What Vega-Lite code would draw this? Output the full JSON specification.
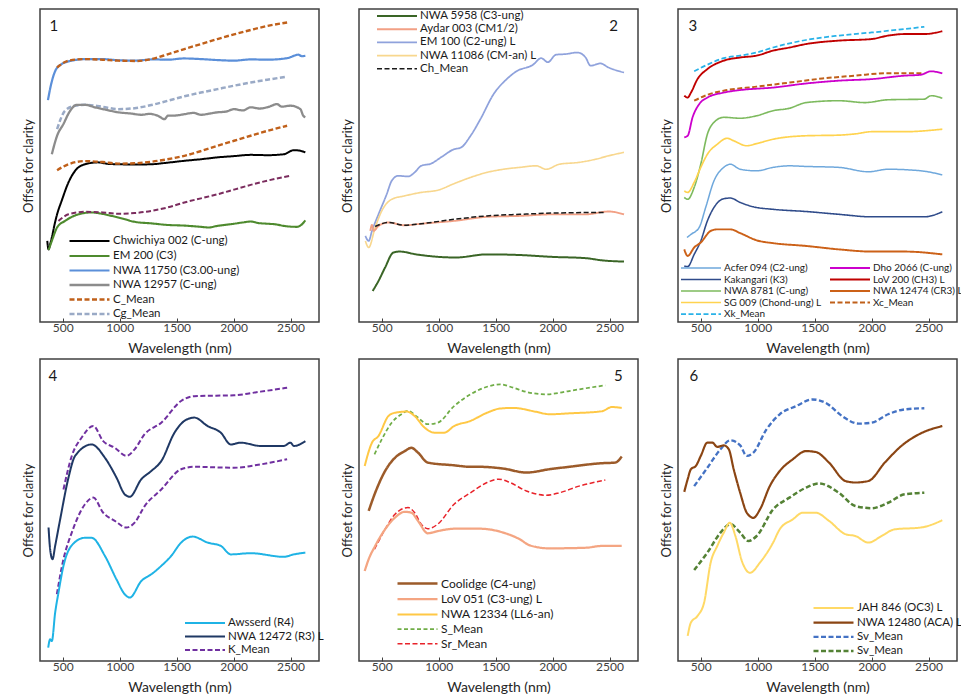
{
"$schema": "https://vega.github.io/schema/vega-lite/v6.json",
"padding": {"left": 21, "top": 8, "right": 2, "bottom": 2},
"background": "white",
"config": {
  "font": "Lato",
  "view": {"stroke": "#404040", "strokeWidth": 1.5},
  "axisX": {"grid": false, "domain": false, "tickSize": -4, "tickColor": "#404040", "tickWidth": 1, "labelFontSize": 12, "labelColor": "#404040", "labelPadding": 4, "titleFontSize": 14, "titleFontWeight": "normal", "titleColor": "#262626", "titlePadding": 8, "values": [500, 1000, 1500, 2000, 2500], "format": "d"},
  "axisY": {"grid": false, "domain": false, "ticks": false, "labels": false, "titleFontSize": 13, "titleFontWeight": "normal", "titleColor": "#262626", "titlePadding": 5},
  "legend": {"title": null, "orient": "none", "symbolType": "M-4,0H4", "symbolSize": 100, "symbolOffset": 14, "labelOffset": 17, "labelFontSize": 11.5, "labelColor": "#1a1a1a", "padding": 0, "rowPadding": 2.5, "labelLimit": 200},
  "line": {"interpolate": "monotone"},
  "text": {"font": "Lato", "fontSize": 15, "color": "#1a1a1a"}
},
"resolve": {
  "scale": {"x": "independent", "y": "independent", "color": "independent", "strokeDash": "independent", "strokeWidth": "independent"},
  "legend": {"color": "independent", "strokeDash": "independent", "strokeWidth": "independent"}
},
"columns": 3,
"bounds": "flush",
"spacing": {"row": 37, "column": 40},
"concat": [
{
  "width": 279, "height": 313,
  "layer": [
    {
      "data": {"values": [
        {"s":"NWA 11750 (C3.00-ung)","x":370,"y":70.9},{"s":"NWA 11750 (C3.00-ung)","x":390,"y":74.7},{"s":"NWA 11750 (C3.00-ung)","x":435,"y":80.3},{"s":"NWA 11750 (C3.00-ung)","x":490,"y":82.4},{"s":"NWA 11750 (C3.00-ung)","x":580,"y":83.5},{"s":"NWA 11750 (C3.00-ung)","x":700,"y":84},{"s":"NWA 11750 (C3.00-ung)","x":840,"y":84},{"s":"NWA 11750 (C3.00-ung)","x":1000,"y":83.6},{"s":"NWA 11750 (C3.00-ung)","x":1131,"y":83.5},{"s":"NWA 11750 (C3.00-ung)","x":1300,"y":83.9},{"s":"NWA 11750 (C3.00-ung)","x":1423,"y":83.8},{"s":"NWA 11750 (C3.00-ung)","x":1560,"y":84.2},{"s":"NWA 11750 (C3.00-ung)","x":1713,"y":84},{"s":"NWA 11750 (C3.00-ung)","x":1850,"y":83.7},{"s":"NWA 11750 (C3.00-ung)","x":2004,"y":83.5},{"s":"NWA 11750 (C3.00-ung)","x":2150,"y":83.9},{"s":"NWA 11750 (C3.00-ung)","x":2296,"y":83.8},{"s":"NWA 11750 (C3.00-ung)","x":2470,"y":84.3},{"s":"NWA 11750 (C3.00-ung)","x":2570,"y":85.4},{"s":"NWA 11750 (C3.00-ung)","x":2600,"y":84.9},{"s":"NWA 11750 (C3.00-ung)","x":2630,"y":85.1},
        {"s":"C_Mean","g":"a","x":450,"y":81.3},{"s":"C_Mean","g":"a","x":550,"y":83.5},{"s":"C_Mean","g":"a","x":695,"y":84},{"s":"C_Mean","g":"a","x":850,"y":83.8},{"s":"C_Mean","g":"a","x":986,"y":83.5},{"s":"C_Mean","g":"a","x":1150,"y":83.4},{"s":"C_Mean","g":"a","x":1277,"y":84},{"s":"C_Mean","g":"a","x":1420,"y":85.5},{"s":"C_Mean","g":"a","x":1568,"y":87.2},{"s":"C_Mean","g":"a","x":1713,"y":88.8},{"s":"C_Mean","g":"a","x":1858,"y":90.4},{"s":"C_Mean","g":"a","x":2004,"y":91.9},{"s":"C_Mean","g":"a","x":2150,"y":93.3},{"s":"C_Mean","g":"a","x":2300,"y":94.6},{"s":"C_Mean","g":"a","x":2470,"y":95.7},
        {"s":"Cg_Mean","x":450,"y":61.6},{"s":"Cg_Mean","x":520,"y":67.5},{"s":"Cg_Mean","x":608,"y":69.1},{"s":"Cg_Mean","x":695,"y":69.4},{"s":"Cg_Mean","x":840,"y":68.8},{"s":"Cg_Mean","x":986,"y":68},{"s":"Cg_Mean","x":1131,"y":68.3},{"s":"Cg_Mean","x":1277,"y":69.3},{"s":"Cg_Mean","x":1423,"y":70.7},{"s":"Cg_Mean","x":1568,"y":72.1},{"s":"Cg_Mean","x":1713,"y":73.3},{"s":"Cg_Mean","x":1858,"y":74.4},{"s":"Cg_Mean","x":2004,"y":75.5},{"s":"Cg_Mean","x":2150,"y":76.5},{"s":"Cg_Mean","x":2296,"y":77.4},{"s":"Cg_Mean","x":2470,"y":78.4},
        {"s":"NWA 12957  (C-ung)","x":404,"y":53.6},{"s":"NWA 12957  (C-ung)","x":450,"y":59.5},{"s":"NWA 12957  (C-ung)","x":505,"y":63.2},{"s":"NWA 12957  (C-ung)","x":565,"y":67.5},{"s":"NWA 12957  (C-ung)","x":625,"y":69.4},{"s":"NWA 12957  (C-ung)","x":695,"y":69.4},{"s":"NWA 12957  (C-ung)","x":782,"y":68.6},{"s":"NWA 12957  (C-ung)","x":880,"y":67.8},{"s":"NWA 12957  (C-ung)","x":986,"y":67},{"s":"NWA 12957  (C-ung)","x":1100,"y":66.6},{"s":"NWA 12957  (C-ung)","x":1190,"y":66.2},{"s":"NWA 12957  (C-ung)","x":1260,"y":66.5},{"s":"NWA 12957  (C-ung)","x":1335,"y":65.9},{"s":"NWA 12957  (C-ung)","x":1394,"y":64.8},{"s":"NWA 12957  (C-ung)","x":1423,"y":65.9},{"s":"NWA 12957  (C-ung)","x":1500,"y":66},{"s":"NWA 12957  (C-ung)","x":1568,"y":66.4},{"s":"NWA 12957  (C-ung)","x":1650,"y":66.8},{"s":"NWA 12957  (C-ung)","x":1713,"y":66.2},{"s":"NWA 12957  (C-ung)","x":1790,"y":66.6},{"s":"NWA 12957  (C-ung)","x":1858,"y":67},{"s":"NWA 12957  (C-ung)","x":1930,"y":67.2},{"s":"NWA 12957  (C-ung)","x":2004,"y":68},{"s":"NWA 12957  (C-ung)","x":2080,"y":67.6},{"s":"NWA 12957  (C-ung)","x":2150,"y":68.6},{"s":"NWA 12957  (C-ung)","x":2230,"y":68.2},{"s":"NWA 12957  (C-ung)","x":2296,"y":68.6},{"s":"NWA 12957  (C-ung)","x":2383,"y":69.6},{"s":"NWA 12957  (C-ung)","x":2420,"y":68.8},{"s":"NWA 12957  (C-ung)","x":2500,"y":69.1},{"s":"NWA 12957  (C-ung)","x":2587,"y":68},{"s":"NWA 12957  (C-ung)","x":2610,"y":66},{"s":"NWA 12957  (C-ung)","x":2630,"y":65.4},
        {"s":"Chwichiya 002  (C-ung)","x":364,"y":25.9},{"s":"Chwichiya 002  (C-ung)","x":375,"y":23.2},{"s":"Chwichiya 002  (C-ung)","x":390,"y":25},{"s":"Chwichiya 002  (C-ung)","x":404,"y":27},{"s":"Chwichiya 002  (C-ung)","x":430,"y":31.5},{"s":"Chwichiya 002  (C-ung)","x":450,"y":34.4},{"s":"Chwichiya 002  (C-ung)","x":490,"y":38.7},{"s":"Chwichiya 002  (C-ung)","x":550,"y":44.6},{"s":"Chwichiya 002  (C-ung)","x":608,"y":48.3},{"s":"Chwichiya 002  (C-ung)","x":695,"y":50.4},{"s":"Chwichiya 002  (C-ung)","x":811,"y":51},{"s":"Chwichiya 002  (C-ung)","x":900,"y":50.5},{"s":"Chwichiya 002  (C-ung)","x":986,"y":50.4},{"s":"Chwichiya 002  (C-ung)","x":1130,"y":50.3},{"s":"Chwichiya 002  (C-ung)","x":1277,"y":50.4},{"s":"Chwichiya 002  (C-ung)","x":1420,"y":50.9},{"s":"Chwichiya 002  (C-ung)","x":1568,"y":51.5},{"s":"Chwichiya 002  (C-ung)","x":1713,"y":52},{"s":"Chwichiya 002  (C-ung)","x":1858,"y":52.6},{"s":"Chwichiya 002  (C-ung)","x":2004,"y":53},{"s":"Chwichiya 002  (C-ung)","x":2150,"y":53.4},{"s":"Chwichiya 002  (C-ung)","x":2300,"y":53.3},{"s":"Chwichiya 002  (C-ung)","x":2441,"y":53.6},{"s":"Chwichiya 002  (C-ung)","x":2529,"y":54.9},{"s":"Chwichiya 002  (C-ung)","x":2587,"y":54.7},{"s":"Chwichiya 002  (C-ung)","x":2630,"y":54.2},
        {"s":"C_Mean","g":"b","x":450,"y":48.5},{"s":"C_Mean","g":"b","x":550,"y":50.4},{"s":"C_Mean","g":"b","x":695,"y":51.4},{"s":"C_Mean","g":"b","x":850,"y":51.1},{"s":"C_Mean","g":"b","x":986,"y":50.6},{"s":"C_Mean","g":"b","x":1130,"y":50.7},{"s":"C_Mean","g":"b","x":1277,"y":51.2},{"s":"C_Mean","g":"b","x":1420,"y":52},{"s":"C_Mean","g":"b","x":1568,"y":53.1},{"s":"C_Mean","g":"b","x":1713,"y":54.6},{"s":"C_Mean","g":"b","x":1858,"y":56.3},{"s":"C_Mean","g":"b","x":2004,"y":57.9},{"s":"C_Mean","g":"b","x":2150,"y":59.5},{"s":"C_Mean","g":"b","x":2300,"y":61.1},{"s":"C_Mean","g":"b","x":2470,"y":62.7},
        {"s":"EM 200 (C3)","x":375,"y":23},{"s":"EM 200 (C3)","x":404,"y":25.9},{"s":"EM 200 (C3)","x":450,"y":30.2},{"s":"EM 200 (C3)","x":520,"y":32.3},{"s":"EM 200 (C3)","x":637,"y":34.4},{"s":"EM 200 (C3)","x":753,"y":35},{"s":"EM 200 (C3)","x":840,"y":34.6},{"s":"EM 200 (C3)","x":928,"y":33.9},{"s":"EM 200 (C3)","x":1030,"y":33},{"s":"EM 200 (C3)","x":1131,"y":32},{"s":"EM 200 (C3)","x":1280,"y":31.5},{"s":"EM 200 (C3)","x":1423,"y":31},{"s":"EM 200 (C3)","x":1568,"y":30.8},{"s":"EM 200 (C3)","x":1713,"y":30.4},{"s":"EM 200 (C3)","x":1780,"y":30.2},{"s":"EM 200 (C3)","x":1858,"y":30.7},{"s":"EM 200 (C3)","x":2004,"y":31.4},{"s":"EM 200 (C3)","x":2080,"y":31.8},{"s":"EM 200 (C3)","x":2150,"y":32.1},{"s":"EM 200 (C3)","x":2220,"y":31.6},{"s":"EM 200 (C3)","x":2296,"y":31.4},{"s":"EM 200 (C3)","x":2370,"y":31.2},{"s":"EM 200 (C3)","x":2441,"y":30.7},{"s":"EM 200 (C3)","x":2558,"y":30.4},{"s":"EM 200 (C3)","x":2600,"y":31.2},{"s":"EM 200 (C3)","x":2630,"y":32.5}
      ]},
      "mark": "line",
      "encoding": {
        "x": {"field": "x", "type": "quantitative", "scale": {"domain": [300, 2750], "nice": false, "zero": false}, "title": "Wavelength (nm)"},
        "y": {"field": "y", "type": "quantitative", "scale": {"domain": [0, 100], "nice": false}, "title": "Offset for clarity"},
        "detail": {"field": "g"},
        "color": {"field": "s", "type": "nominal", "scale": {"domain": ["Chwichiya 002  (C-ung)","EM 200 (C3)","NWA 11750 (C3.00-ung)","NWA 12957  (C-ung)","C_Mean","Cg_Mean"], "range": ["#000000","#4E8A2E","#5B8FD9","#8C8C8C","#C0601A","#9AAAC6"]}, "legend": {"legendX": 29, "legendY": 226}},
        "strokeDash": {"field": "s", "type": "nominal", "scale": {"domain": ["Chwichiya 002  (C-ung)","EM 200 (C3)","NWA 11750 (C3.00-ung)","NWA 12957  (C-ung)","C_Mean","Cg_Mean"], "range": [[1,0],[1,0],[1,0],[1,0],[5,2.5],[5,2.5]]}, "legend": {"legendX": 29, "legendY": 226}},
        "strokeWidth": {"field": "s", "type": "nominal", "scale": {"domain": ["Chwichiya 002  (C-ung)","EM 200 (C3)","NWA 11750 (C3.00-ung)","NWA 12957  (C-ung)","C_Mean","Cg_Mean"], "range": [2,2.5,1.5,2,2,1.5]}, "legend": {"legendX": 29, "legendY": 226}}
      }
    },
    {
      "data": {"values": [
        {"x":462,"y":32.3},{"x":550,"y":34.4},{"x":695,"y":35.2},{"x":850,"y":35},{"x":986,"y":34.6},{"x":1130,"y":34.8},{"x":1277,"y":35.5},{"x":1420,"y":36.6},{"x":1568,"y":38.2},{"x":1713,"y":39.5},{"x":1858,"y":40.8},{"x":2004,"y":42.3},{"x":2150,"y":43.8},{"x":2300,"y":45.2},{"x":2500,"y":46.7}
      ]},
      "mark": {"type": "line", "color": "#7B2C5E", "strokeDash": [5, 2.5], "strokeWidth": 2},
      "encoding": {
        "x": {"field": "x", "type": "quantitative"},
        "y": {"field": "y", "type": "quantitative"}
      }
    },
    {
      "data": {"values": [{"x": 421, "y": 94.6, "t": "1"}]},
      "mark": {"type": "text"},
      "encoding": {
        "x": {"field": "x", "type": "quantitative"},
        "y": {"field": "y", "type": "quantitative"},
        "text": {"field": "t"}
      }
    }
  ]
},
{
  "width": 279, "height": 313,
  "layer": [
    {
      "data": {"values": [
        {"s":"EM 100  (C2-ung) L","x":356,"y":27.5},{"s":"EM 100  (C2-ung) L","x":385,"y":25.9},{"s":"EM 100  (C2-ung) L","x":414,"y":29.1},{"s":"EM 100  (C2-ung) L","x":471,"y":34.4},{"s":"EM 100  (C2-ung) L","x":543,"y":40.8},{"s":"EM 100  (C2-ung) L","x":587,"y":45.1},{"s":"EM 100  (C2-ung) L","x":644,"y":46.7},{"s":"EM 100  (C2-ung) L","x":731,"y":46.5},{"s":"EM 100  (C2-ung) L","x":789,"y":47.8},{"s":"EM 100  (C2-ung) L","x":846,"y":49.9},{"s":"EM 100  (C2-ung) L","x":933,"y":50.6},{"s":"EM 100  (C2-ung) L","x":1020,"y":52.6},{"s":"EM 100  (C2-ung) L","x":1135,"y":55.2},{"s":"EM 100  (C2-ung) L","x":1193,"y":55.7},{"s":"EM 100  (C2-ung) L","x":1280,"y":59.5},{"s":"EM 100  (C2-ung) L","x":1366,"y":64.8},{"s":"EM 100  (C2-ung) L","x":1482,"y":72.8},{"s":"EM 100  (C2-ung) L","x":1597,"y":77.6},{"s":"EM 100  (C2-ung) L","x":1683,"y":80.1},{"s":"EM 100  (C2-ung) L","x":1828,"y":82.2},{"s":"EM 100  (C2-ung) L","x":1900,"y":84.3},{"s":"EM 100  (C2-ung) L","x":1958,"y":83},{"s":"EM 100  (C2-ung) L","x":2030,"y":85.4},{"s":"EM 100  (C2-ung) L","x":2116,"y":85.6},{"s":"EM 100  (C2-ung) L","x":2217,"y":86.1},{"s":"EM 100  (C2-ung) L","x":2290,"y":84.5},{"s":"EM 100  (C2-ung) L","x":2333,"y":81.9},{"s":"EM 100  (C2-ung) L","x":2420,"y":82.6},{"s":"EM 100  (C2-ung) L","x":2492,"y":81.3},{"s":"EM 100  (C2-ung) L","x":2627,"y":79.7},
        {"s":"NWA 11086 (CM-an) L","x":356,"y":25.9},{"s":"NWA 11086 (CM-an) L","x":385,"y":23.8},{"s":"NWA 11086 (CM-an) L","x":442,"y":30.2},{"s":"NWA 11086 (CM-an) L","x":500,"y":35.5},{"s":"NWA 11086 (CM-an) L","x":587,"y":39.2},{"s":"NWA 11086 (CM-an) L","x":702,"y":40.3},{"s":"NWA 11086 (CM-an) L","x":846,"y":41.4},{"s":"NWA 11086 (CM-an) L","x":991,"y":42.1},{"s":"NWA 11086 (CM-an) L","x":1135,"y":44.2},{"s":"NWA 11086 (CM-an) L","x":1280,"y":46.2},{"s":"NWA 11086 (CM-an) L","x":1424,"y":47.8},{"s":"NWA 11086 (CM-an) L","x":1568,"y":48.8},{"s":"NWA 11086 (CM-an) L","x":1712,"y":49.4},{"s":"NWA 11086 (CM-an) L","x":1857,"y":49.9},{"s":"NWA 11086 (CM-an) L","x":1943,"y":48.8},{"s":"NWA 11086 (CM-an) L","x":2059,"y":50.4},{"s":"NWA 11086 (CM-an) L","x":2232,"y":51},{"s":"NWA 11086 (CM-an) L","x":2377,"y":52},{"s":"NWA 11086 (CM-an) L","x":2492,"y":53.1},{"s":"NWA 11086 (CM-an) L","x":2627,"y":54.2},
        {"s":"Aydar 003 (CM1/2)","x":399,"y":29.1},{"s":"Aydar 003 (CM1/2)","x":414,"y":31},{"s":"Aydar 003 (CM1/2)","x":428,"y":29.1},{"s":"Aydar 003 (CM1/2)","x":471,"y":30.7},{"s":"Aydar 003 (CM1/2)","x":558,"y":31.8},{"s":"Aydar 003 (CM1/2)","x":702,"y":30.9},{"s":"Aydar 003 (CM1/2)","x":846,"y":31.4},{"s":"Aydar 003 (CM1/2)","x":1135,"y":32.3},{"s":"Aydar 003 (CM1/2)","x":1424,"y":33.6},{"s":"Aydar 003 (CM1/2)","x":1712,"y":33.9},{"s":"Aydar 003 (CM1/2)","x":2001,"y":34.4},{"s":"Aydar 003 (CM1/2)","x":2290,"y":34.4},{"s":"Aydar 003 (CM1/2)","x":2492,"y":35.3},{"s":"Aydar 003 (CM1/2)","x":2627,"y":34.4},
        {"s":"Ch_Mean","x":442,"y":30.5},{"s":"Ch_Mean","x":558,"y":31.8},{"s":"Ch_Mean","x":702,"y":30.9},{"s":"Ch_Mean","x":846,"y":31.4},{"s":"Ch_Mean","x":1135,"y":32.8},{"s":"Ch_Mean","x":1424,"y":33.9},{"s":"Ch_Mean","x":1712,"y":34.4},{"s":"Ch_Mean","x":2001,"y":34.8},{"s":"Ch_Mean","x":2463,"y":35},
        {"s":"NWA 5958 (C3-ung)","x":420,"y":9.9},{"s":"NWA 5958 (C3-ung)","x":471,"y":13.1},{"s":"NWA 5958 (C3-ung)","x":529,"y":17.4},{"s":"NWA 5958 (C3-ung)","x":602,"y":22.2},{"s":"NWA 5958 (C3-ung)","x":659,"y":22.5},{"s":"NWA 5958 (C3-ung)","x":803,"y":21.6},{"s":"NWA 5958 (C3-ung)","x":1005,"y":20.8},{"s":"NWA 5958 (C3-ung)","x":1150,"y":20.6},{"s":"NWA 5958 (C3-ung)","x":1424,"y":21.6},{"s":"NWA 5958 (C3-ung)","x":1712,"y":21.4},{"s":"NWA 5958 (C3-ung)","x":2001,"y":20.8},{"s":"NWA 5958 (C3-ung)","x":2290,"y":20.4},{"s":"NWA 5958 (C3-ung)","x":2434,"y":19.7},{"s":"NWA 5958 (C3-ung)","x":2627,"y":19.3}
      ]},
      "mark": "line",
      "encoding": {
        "x": {"field": "x", "type": "quantitative", "scale": {"domain": [300, 2750], "nice": false, "zero": false}, "title": "Wavelength (nm)"},
        "y": {"field": "y", "type": "quantitative", "scale": {"domain": [0, 100], "nice": false}, "title": "Offset for clarity"},
        "color": {"field": "s", "type": "nominal", "scale": {"domain": ["NWA 5958 (C3-ung)","Aydar 003 (CM1/2)","EM 100  (C2-ung) L","NWA 11086 (CM-an) L","Ch_Mean"], "range": ["#3A6526","#F2A085","#8FA2DC","#F8D78E","#1a1a1a"]}, "legend": {"legendX": 18, "legendY": 1, "rowPadding": 1.2}},
        "strokeDash": {"field": "s", "type": "nominal", "scale": {"domain": ["NWA 5958 (C3-ung)","Aydar 003 (CM1/2)","EM 100  (C2-ung) L","NWA 11086 (CM-an) L","Ch_Mean"], "range": [[1,0],[1,0],[1,0],[1,0],[5,2.5]]}, "legend": {"legendX": 18, "legendY": 1, "rowPadding": 1.2}},
        "strokeWidth": {"field": "s", "type": "nominal", "scale": {"domain": ["NWA 5958 (C3-ung)","Aydar 003 (CM1/2)","EM 100  (C2-ung) L","NWA 11086 (CM-an) L","Ch_Mean"], "range": [2,1.5,1.5,1.5,2]}, "legend": {"legendX": 18, "legendY": 1, "rowPadding": 1.2}}
      }
    },
    {
      "data": {"values": [{"x": 2535, "y": 94.6, "t": "2"}]},
      "mark": {"type": "text"},
      "encoding": {
        "x": {"field": "x", "type": "quantitative"},
        "y": {"field": "y", "type": "quantitative"},
        "text": {"field": "t"}
      }
    }
  ]
},
{
  "width": 279, "height": 313,
  "layer": [
    {
      "data": {"values": [
        {"s":"Xk_Mean","x":442,"y":80.1},{"s":"Xk_Mean","x":558,"y":82.2},{"s":"Xk_Mean","x":702,"y":84.3},{"s":"Xk_Mean","x":846,"y":85.1},{"s":"Xk_Mean","x":991,"y":86.1},{"s":"Xk_Mean","x":1135,"y":87.7},{"s":"Xk_Mean","x":1424,"y":90.1},{"s":"Xk_Mean","x":1712,"y":91.5},{"s":"Xk_Mean","x":2001,"y":92.5},{"s":"Xk_Mean","x":2290,"y":93.6},{"s":"Xk_Mean","x":2463,"y":94.3},
        {"s":"LoV 200 (CH3) L","x":355,"y":72.3},{"s":"LoV 200 (CH3) L","x":385,"y":71.7},{"s":"LoV 200 (CH3) L","x":414,"y":73.3},{"s":"LoV 200 (CH3) L","x":471,"y":77.6},{"s":"LoV 200 (CH3) L","x":558,"y":80.8},{"s":"LoV 200 (CH3) L","x":702,"y":83.5},{"s":"LoV 200 (CH3) L","x":846,"y":84.5},{"s":"LoV 200 (CH3) L","x":991,"y":85.1},{"s":"LoV 200 (CH3) L","x":1135,"y":86.7},{"s":"LoV 200 (CH3) L","x":1280,"y":87.7},{"s":"LoV 200 (CH3) L","x":1424,"y":88.8},{"s":"LoV 200 (CH3) L","x":1712,"y":89.9},{"s":"LoV 200 (CH3) L","x":2001,"y":90.4},{"s":"LoV 200 (CH3) L","x":2145,"y":91.5},{"s":"LoV 200 (CH3) L","x":2290,"y":92},{"s":"LoV 200 (CH3) L","x":2463,"y":92},{"s":"LoV 200 (CH3) L","x":2621,"y":92.9},
        {"s":"Xc_Mean","x":442,"y":70.7},{"s":"Xc_Mean","x":558,"y":72.6},{"s":"Xc_Mean","x":702,"y":73.9},{"s":"Xc_Mean","x":991,"y":75.2},{"s":"Xc_Mean","x":1280,"y":76.5},{"s":"Xc_Mean","x":1568,"y":77.8},{"s":"Xc_Mean","x":1857,"y":78.7},{"s":"Xc_Mean","x":2145,"y":79.5},{"s":"Xc_Mean","x":2463,"y":79.5},
        {"s":"Dho 2066  (C-ung)","x":355,"y":59},{"s":"Dho 2066  (C-ung)","x":385,"y":59.5},{"s":"Dho 2066  (C-ung)","x":428,"y":65.4},{"s":"Dho 2066  (C-ung)","x":486,"y":69.6},{"s":"Dho 2066  (C-ung)","x":558,"y":71.7},{"s":"Dho 2066  (C-ung)","x":702,"y":73.3},{"s":"Dho 2066  (C-ung)","x":846,"y":74.1},{"s":"Dho 2066  (C-ung)","x":1135,"y":74.9},{"s":"Dho 2066  (C-ung)","x":1424,"y":76.2},{"s":"Dho 2066  (C-ung)","x":1712,"y":77.1},{"s":"Dho 2066  (C-ung)","x":2001,"y":77.6},{"s":"Dho 2066  (C-ung)","x":2290,"y":78.7},{"s":"Dho 2066  (C-ung)","x":2434,"y":79},{"s":"Dho 2066  (C-ung)","x":2521,"y":80.1},{"s":"Dho 2066  (C-ung)","x":2621,"y":79.4},
        {"s":"NWA 8781 (C-ung)","x":355,"y":39.8},{"s":"NWA 8781 (C-ung)","x":385,"y":39.2},{"s":"NWA 8781 (C-ung)","x":442,"y":43},{"s":"NWA 8781 (C-ung)","x":500,"y":50.4},{"s":"NWA 8781 (C-ung)","x":558,"y":60},{"s":"NWA 8781 (C-ung)","x":616,"y":63.8},{"s":"NWA 8781 (C-ung)","x":702,"y":65.4},{"s":"NWA 8781 (C-ung)","x":846,"y":65.1},{"s":"NWA 8781 (C-ung)","x":991,"y":65.9},{"s":"NWA 8781 (C-ung)","x":1135,"y":67.5},{"s":"NWA 8781 (C-ung)","x":1280,"y":68.3},{"s":"NWA 8781 (C-ung)","x":1424,"y":70.1},{"s":"NWA 8781 (C-ung)","x":1712,"y":70.7},{"s":"NWA 8781 (C-ung)","x":1943,"y":70.1},{"s":"NWA 8781 (C-ung)","x":2145,"y":71},{"s":"NWA 8781 (C-ung)","x":2463,"y":71.2},{"s":"NWA 8781 (C-ung)","x":2521,"y":72.3},{"s":"NWA 8781 (C-ung)","x":2621,"y":71.5},
        {"s":"SG 009  (Chond-ung) L","x":355,"y":41.9},{"s":"SG 009  (Chond-ung) L","x":385,"y":41.4},{"s":"SG 009  (Chond-ung) L","x":442,"y":44.6},{"s":"SG 009  (Chond-ung) L","x":500,"y":49.4},{"s":"SG 009  (Chond-ung) L","x":558,"y":53.6},{"s":"SG 009  (Chond-ung) L","x":645,"y":56.8},{"s":"SG 009  (Chond-ung) L","x":731,"y":58.7},{"s":"SG 009  (Chond-ung) L","x":789,"y":57.9},{"s":"SG 009  (Chond-ung) L","x":904,"y":56.3},{"s":"SG 009  (Chond-ung) L","x":991,"y":57},{"s":"SG 009  (Chond-ung) L","x":1135,"y":58.4},{"s":"SG 009  (Chond-ung) L","x":1424,"y":59.5},{"s":"SG 009  (Chond-ung) L","x":1712,"y":59.7},{"s":"SG 009  (Chond-ung) L","x":1857,"y":60.1},{"s":"SG 009  (Chond-ung) L","x":2001,"y":60.8},{"s":"SG 009  (Chond-ung) L","x":2290,"y":60.8},{"s":"SG 009  (Chond-ung) L","x":2621,"y":61.6},
        {"s":"Acfer 094 (C2-ung)","x":379,"y":27},{"s":"Acfer 094 (C2-ung)","x":414,"y":28},{"s":"Acfer 094 (C2-ung)","x":486,"y":30.2},{"s":"Acfer 094 (C2-ung)","x":543,"y":36.6},{"s":"Acfer 094 (C2-ung)","x":616,"y":45.1},{"s":"Acfer 094 (C2-ung)","x":702,"y":49.4},{"s":"Acfer 094 (C2-ung)","x":760,"y":50.4},{"s":"Acfer 094 (C2-ung)","x":846,"y":48.8},{"s":"Acfer 094 (C2-ung)","x":991,"y":48.3},{"s":"Acfer 094 (C2-ung)","x":1135,"y":49.4},{"s":"Acfer 094 (C2-ung)","x":1280,"y":49.9},{"s":"Acfer 094 (C2-ung)","x":1424,"y":49.7},{"s":"Acfer 094 (C2-ung)","x":1712,"y":49.4},{"s":"Acfer 094 (C2-ung)","x":1972,"y":48},{"s":"Acfer 094 (C2-ung)","x":2145,"y":48.8},{"s":"Acfer 094 (C2-ung)","x":2434,"y":48.3},{"s":"Acfer 094 (C2-ung)","x":2621,"y":47},
        {"s":"Kakangari (K3)","x":355,"y":17.9},{"s":"Kakangari (K3)","x":385,"y":17.7},{"s":"Kakangari (K3)","x":442,"y":21.6},{"s":"Kakangari (K3)","x":500,"y":25.9},{"s":"Kakangari (K3)","x":558,"y":32.3},{"s":"Kakangari (K3)","x":616,"y":36.6},{"s":"Kakangari (K3)","x":702,"y":39.4},{"s":"Kakangari (K3)","x":760,"y":39.6},{"s":"Kakangari (K3)","x":846,"y":38.2},{"s":"Kakangari (K3)","x":962,"y":36.8},{"s":"Kakangari (K3)","x":1135,"y":36},{"s":"Kakangari (K3)","x":1424,"y":35.3},{"s":"Kakangari (K3)","x":1712,"y":34.4},{"s":"Kakangari (K3)","x":2001,"y":33.6},{"s":"Kakangari (K3)","x":2290,"y":33.6},{"s":"Kakangari (K3)","x":2463,"y":33.6},{"s":"Kakangari (K3)","x":2621,"y":35.2},
        {"s":"NWA 12474 (CR3) L","x":355,"y":23.2},{"s":"NWA 12474 (CR3) L","x":385,"y":21.1},{"s":"NWA 12474 (CR3) L","x":442,"y":23.8},{"s":"NWA 12474 (CR3) L","x":500,"y":25.4},{"s":"NWA 12474 (CR3) L","x":587,"y":29.1},{"s":"NWA 12474 (CR3) L","x":645,"y":29.6},{"s":"NWA 12474 (CR3) L","x":760,"y":29.6},{"s":"NWA 12474 (CR3) L","x":846,"y":28.4},{"s":"NWA 12474 (CR3) L","x":991,"y":26.1},{"s":"NWA 12474 (CR3) L","x":1135,"y":25.2},{"s":"NWA 12474 (CR3) L","x":1424,"y":24.3},{"s":"NWA 12474 (CR3) L","x":1712,"y":23.2},{"s":"NWA 12474 (CR3) L","x":2001,"y":22.5},{"s":"NWA 12474 (CR3) L","x":2290,"y":22.5},{"s":"NWA 12474 (CR3) L","x":2621,"y":21.6}
      ]},
      "mark": "line",
      "encoding": {
        "x": {"field": "x", "type": "quantitative", "scale": {"domain": [300, 2750], "nice": false, "zero": false}, "title": "Wavelength (nm)"},
        "y": {"field": "y", "type": "quantitative", "scale": {"domain": [0, 100], "nice": false}, "title": "Offset for clarity"},
        "color": {"field": "s", "type": "nominal", "scale": {"domain": ["Acfer 094 (C2-ung)","Kakangari (K3)","NWA 8781 (C-ung)","SG 009  (Chond-ung) L","Xk_Mean","Dho 2066  (C-ung)","LoV 200 (CH3) L","NWA 12474 (CR3) L","Xc_Mean"], "range": ["#6FA8DC","#2F4B8A","#7DBA5E","#FFD34F","#29B2E8","#CC00CC","#C00000","#CC6118","#C0601A"]}, "legend": {"legendX": 3, "legendY": 253, "columns": 2, "labelFontSize": 10, "rowPadding": 0.5, "columnPadding": 2}},
        "strokeDash": {"field": "s", "type": "nominal", "scale": {"domain": ["Acfer 094 (C2-ung)","Kakangari (K3)","NWA 8781 (C-ung)","SG 009  (Chond-ung) L","Xk_Mean","Dho 2066  (C-ung)","LoV 200 (CH3) L","NWA 12474 (CR3) L","Xc_Mean"], "range": [[1,0],[1,0],[1,0],[1,0],[5,2.5],[1,0],[1,0],[1,0],[5,2.5]]}, "legend": {"legendX": 3, "legendY": 253, "columns": 2, "labelFontSize": 10, "rowPadding": 0.5, "columnPadding": 2}},
        "strokeWidth": {"field": "s", "type": "nominal", "scale": {"domain": ["Acfer 094 (C2-ung)","Kakangari (K3)","NWA 8781 (C-ung)","SG 009  (Chond-ung) L","Xk_Mean","Dho 2066  (C-ung)","LoV 200 (CH3) L","NWA 12474 (CR3) L","Xc_Mean"], "range": [1.5,2,1.5,1.5,2,2,2,2,2]}, "legend": {"legendX": 3, "legendY": 253, "columns": 2, "labelFontSize": 10, "rowPadding": 0.5, "columnPadding": 2}}
      }
    },
    {
      "data": {"values": [{"x": 431, "y": 94.6, "t": "3"}]},
      "mark": {"type": "text"},
      "encoding": {
        "x": {"field": "x", "type": "quantitative"},
        "y": {"field": "y", "type": "quantitative"},
        "text": {"field": "t"}
      }
    }
  ]
},
{
  "width": 279, "height": 302,
  "layer": [
    {
      "data": {"values": [
        {"s":"K_Mean","g":"a","x":506,"y":56.8},{"s":"K_Mean","g":"a","x":579,"y":67.9},{"s":"K_Mean","g":"a","x":666,"y":74},{"s":"K_Mean","g":"a","x":768,"y":77.8},{"s":"K_Mean","g":"a","x":855,"y":72.8},{"s":"K_Mean","g":"a","x":957,"y":70.6},{"s":"K_Mean","g":"a","x":1059,"y":67.9},{"s":"K_Mean","g":"a","x":1131,"y":70.1},{"s":"K_Mean","g":"a","x":1219,"y":75.1},{"s":"K_Mean","g":"a","x":1365,"y":78.9},{"s":"K_Mean","g":"a","x":1539,"y":86.1},{"s":"K_Mean","g":"a","x":1655,"y":87.7},{"s":"K_Mean","g":"a","x":2004,"y":88},{"s":"K_Mean","g":"a","x":2237,"y":89.2},{"s":"K_Mean","g":"a","x":2470,"y":90.5},
        {"s":"NWA 12472 (R3) L","x":375,"y":44.2},{"s":"NWA 12472 (R3) L","x":389,"y":37},{"s":"NWA 12472 (R3) L","x":410,"y":33.7},{"s":"NWA 12472 (R3) L","x":433,"y":38.1},{"s":"NWA 12472 (R3) L","x":477,"y":46.9},{"s":"NWA 12472 (R3) L","x":550,"y":60.7},{"s":"NWA 12472 (R3) L","x":608,"y":67.9},{"s":"NWA 12472 (R3) L","x":753,"y":71.7},{"s":"NWA 12472 (R3) L","x":870,"y":67.3},{"s":"NWA 12472 (R3) L","x":972,"y":60.7},{"s":"NWA 12472 (R3) L","x":1044,"y":55.2},{"s":"NWA 12472 (R3) L","x":1088,"y":54.4},{"s":"NWA 12472 (R3) L","x":1190,"y":60.2},{"s":"NWA 12472 (R3) L","x":1277,"y":62.9},{"s":"NWA 12472 (R3) L","x":1365,"y":66.2},{"s":"NWA 12472 (R3) L","x":1481,"y":75.6},{"s":"NWA 12472 (R3) L","x":1568,"y":79.5},{"s":"NWA 12472 (R3) L","x":1655,"y":80.6},{"s":"NWA 12472 (R3) L","x":1772,"y":77.8},{"s":"NWA 12472 (R3) L","x":1888,"y":75.6},{"s":"NWA 12472 (R3) L","x":1975,"y":71.7},{"s":"NWA 12472 (R3) L","x":2062,"y":72.3},{"s":"NWA 12472 (R3) L","x":2237,"y":71.2},{"s":"NWA 12472 (R3) L","x":2441,"y":71.2},{"s":"NWA 12472 (R3) L","x":2500,"y":72.3},{"s":"NWA 12472 (R3) L","x":2529,"y":71.2},{"s":"NWA 12472 (R3) L","x":2630,"y":72.8},
        {"s":"K_Mean","g":"b","x":448,"y":22.1},{"s":"K_Mean","g":"b","x":506,"y":33.7},{"s":"K_Mean","g":"b","x":579,"y":42.5},{"s":"K_Mean","g":"b","x":695,"y":51.9},{"s":"K_Mean","g":"b","x":768,"y":54.1},{"s":"K_Mean","g":"b","x":855,"y":49.1},{"s":"K_Mean","g":"b","x":957,"y":46.4},{"s":"K_Mean","g":"b","x":1059,"y":44.2},{"s":"K_Mean","g":"b","x":1131,"y":45.8},{"s":"K_Mean","g":"b","x":1219,"y":51.3},{"s":"K_Mean","g":"b","x":1365,"y":56.8},{"s":"K_Mean","g":"b","x":1539,"y":63.5},{"s":"K_Mean","g":"b","x":1655,"y":64.3},{"s":"K_Mean","g":"b","x":2004,"y":64},{"s":"K_Mean","g":"b","x":2237,"y":65.1},{"s":"K_Mean","g":"b","x":2470,"y":66.8},
        {"s":"Awsserd (R4)","x":372,"y":4.4},{"s":"Awsserd (R4)","x":389,"y":7.2},{"s":"Awsserd (R4)","x":404,"y":6.6},{"s":"Awsserd (R4)","x":433,"y":16},{"s":"Awsserd (R4)","x":462,"y":22.6},{"s":"Awsserd (R4)","x":506,"y":31.5},{"s":"Awsserd (R4)","x":579,"y":38.3},{"s":"Awsserd (R4)","x":695,"y":40.8},{"s":"Awsserd (R4)","x":753,"y":40.8},{"s":"Awsserd (R4)","x":870,"y":34.8},{"s":"Awsserd (R4)","x":972,"y":27},{"s":"Awsserd (R4)","x":1044,"y":22.1},{"s":"Awsserd (R4)","x":1088,"y":21},{"s":"Awsserd (R4)","x":1190,"y":26.5},{"s":"Awsserd (R4)","x":1277,"y":28.7},{"s":"Awsserd (R4)","x":1365,"y":31.5},{"s":"Awsserd (R4)","x":1452,"y":34.8},{"s":"Awsserd (R4)","x":1539,"y":39.2},{"s":"Awsserd (R4)","x":1641,"y":41.2},{"s":"Awsserd (R4)","x":1772,"y":39.2},{"s":"Awsserd (R4)","x":1888,"y":38.1},{"s":"Awsserd (R4)","x":1975,"y":35.3},{"s":"Awsserd (R4)","x":2150,"y":35.7},{"s":"Awsserd (R4)","x":2441,"y":34.5},{"s":"Awsserd (R4)","x":2529,"y":35.3},{"s":"Awsserd (R4)","x":2630,"y":35.9}
      ]},
      "mark": "line",
      "encoding": {
        "x": {"field": "x", "type": "quantitative", "scale": {"domain": [300, 2750], "nice": false, "zero": false}, "title": "Wavelength (nm)"},
        "y": {"field": "y", "type": "quantitative", "scale": {"domain": [0, 100], "nice": false}, "title": "Offset for clarity"},
        "detail": {"field": "g"},
        "color": {"field": "s", "type": "nominal", "scale": {"domain": ["Awsserd (R4)","NWA 12472 (R3) L","K_Mean"], "range": ["#1FB3E5","#1F3864","#7030A0"]}, "legend": {"legendX": 145, "legendY": 258, "rowPadding": 1.5}},
        "strokeDash": {"field": "s", "type": "nominal", "scale": {"domain": ["Awsserd (R4)","NWA 12472 (R3) L","K_Mean"], "range": [[1,0],[1,0],[5,2.5]]}, "legend": {"legendX": 145, "legendY": 258, "rowPadding": 1.5}},
        "strokeWidth": {"field": "s", "type": "nominal", "scale": {"domain": ["Awsserd (R4)","NWA 12472 (R3) L","K_Mean"], "range": [2,2,2]}, "legend": {"legendX": 145, "legendY": 258, "rowPadding": 1.5}}
      }
    },
    {
      "data": {"values": [{"x": 413, "y": 94.4, "t": "4"}]},
      "mark": {"type": "text"},
      "encoding": {
        "x": {"field": "x", "type": "quantitative"},
        "y": {"field": "y", "type": "quantitative"},
        "text": {"field": "t"}
      }
    }
  ]
},
{
  "width": 279, "height": 302,
  "layer": [
    {
      "data": {"values": [
        {"s":"S_Mean","x":436,"y":68.4},{"s":"S_Mean","x":500,"y":73.4},{"s":"S_Mean","x":587,"y":78.9},{"s":"S_Mean","x":673,"y":81.7},{"s":"S_Mean","x":731,"y":82.8},{"s":"S_Mean","x":818,"y":80.6},{"s":"S_Mean","x":904,"y":78.4},{"s":"S_Mean","x":991,"y":78.9},{"s":"S_Mean","x":1135,"y":84.4},{"s":"S_Mean","x":1279,"y":88.3},{"s":"S_Mean","x":1424,"y":90.8},{"s":"S_Mean","x":1539,"y":91.6},{"s":"S_Mean","x":1654,"y":90.5},{"s":"S_Mean","x":1770,"y":89.1},{"s":"S_Mean","x":1943,"y":88.3},{"s":"S_Mean","x":2145,"y":89.4},{"s":"S_Mean","x":2290,"y":90.3},{"s":"S_Mean","x":2463,"y":91.3},
        {"s":"NWA 12334 (LL6-an)","x":350,"y":64.6},{"s":"NWA 12334 (LL6-an)","x":414,"y":72.3},{"s":"NWA 12334 (LL6-an)","x":471,"y":74.5},{"s":"NWA 12334 (LL6-an)","x":558,"y":81.1},{"s":"NWA 12334 (LL6-an)","x":616,"y":82.2},{"s":"NWA 12334 (LL6-an)","x":717,"y":82.6},{"s":"NWA 12334 (LL6-an)","x":789,"y":81.1},{"s":"NWA 12334 (LL6-an)","x":875,"y":77.3},{"s":"NWA 12334 (LL6-an)","x":962,"y":75.6},{"s":"NWA 12334 (LL6-an)","x":1049,"y":75.6},{"s":"NWA 12334 (LL6-an)","x":1135,"y":77.8},{"s":"NWA 12334 (LL6-an)","x":1279,"y":79.5},{"s":"NWA 12334 (LL6-an)","x":1424,"y":82.2},{"s":"NWA 12334 (LL6-an)","x":1539,"y":83.6},{"s":"NWA 12334 (LL6-an)","x":1654,"y":83.8},{"s":"NWA 12334 (LL6-an)","x":1857,"y":82.5},{"s":"NWA 12334 (LL6-an)","x":1972,"y":81.7},{"s":"NWA 12334 (LL6-an)","x":2145,"y":82},{"s":"NWA 12334 (LL6-an)","x":2434,"y":82.7},{"s":"NWA 12334 (LL6-an)","x":2521,"y":84.1},{"s":"NWA 12334 (LL6-an)","x":2607,"y":83.8},
        {"s":"Coolidge (C4-ung)","x":385,"y":49.7},{"s":"Coolidge (C4-ung)","x":442,"y":55.7},{"s":"Coolidge (C4-ung)","x":529,"y":62.9},{"s":"Coolidge (C4-ung)","x":616,"y":67.3},{"s":"Coolidge (C4-ung)","x":702,"y":69.5},{"s":"Coolidge (C4-ung)","x":760,"y":70.6},{"s":"Coolidge (C4-ung)","x":818,"y":69},{"s":"Coolidge (C4-ung)","x":904,"y":65.7},{"s":"Coolidge (C4-ung)","x":1135,"y":64.8},{"s":"Coolidge (C4-ung)","x":1279,"y":64.3},{"s":"Coolidge (C4-ung)","x":1366,"y":64.3},{"s":"Coolidge (C4-ung)","x":1568,"y":63.7},{"s":"Coolidge (C4-ung)","x":1770,"y":62.4},{"s":"Coolidge (C4-ung)","x":1972,"y":63.5},{"s":"Coolidge (C4-ung)","x":2145,"y":64.3},{"s":"Coolidge (C4-ung)","x":2434,"y":65.5},{"s":"Coolidge (C4-ung)","x":2550,"y":65.7},{"s":"Coolidge (C4-ung)","x":2607,"y":67.7},
        {"s":"Sr_Mean","x":436,"y":37},{"s":"Sr_Mean","x":529,"y":43.6},{"s":"Sr_Mean","x":616,"y":48.6},{"s":"Sr_Mean","x":731,"y":50.8},{"s":"Sr_Mean","x":789,"y":49.1},{"s":"Sr_Mean","x":846,"y":45.3},{"s":"Sr_Mean","x":904,"y":43.8},{"s":"Sr_Mean","x":991,"y":45.3},{"s":"Sr_Mean","x":1135,"y":51.9},{"s":"Sr_Mean","x":1279,"y":55.7},{"s":"Sr_Mean","x":1424,"y":59.1},{"s":"Sr_Mean","x":1525,"y":60.2},{"s":"Sr_Mean","x":1626,"y":59.1},{"s":"Sr_Mean","x":1770,"y":56.3},{"s":"Sr_Mean","x":1943,"y":54.9},{"s":"Sr_Mean","x":2059,"y":55.7},{"s":"Sr_Mean","x":2232,"y":57.9},{"s":"Sr_Mean","x":2463,"y":59.9},
        {"s":"LoV 051  (C3-ung) L","x":350,"y":29.8},{"s":"LoV 051  (C3-ung) L","x":385,"y":33.7},{"s":"LoV 051  (C3-ung) L","x":442,"y":38.1},{"s":"LoV 051  (C3-ung) L","x":529,"y":43.6},{"s":"LoV 051  (C3-ung) L","x":616,"y":47.5},{"s":"LoV 051  (C3-ung) L","x":702,"y":49.4},{"s":"LoV 051  (C3-ung) L","x":760,"y":49.1},{"s":"LoV 051  (C3-ung) L","x":818,"y":46.4},{"s":"LoV 051  (C3-ung) L","x":904,"y":42.3},{"s":"LoV 051  (C3-ung) L","x":991,"y":43},{"s":"LoV 051  (C3-ung) L","x":1135,"y":43.8},{"s":"LoV 051  (C3-ung) L","x":1366,"y":43.8},{"s":"LoV 051  (C3-ung) L","x":1568,"y":42.5},{"s":"LoV 051  (C3-ung) L","x":1712,"y":40.3},{"s":"LoV 051  (C3-ung) L","x":1799,"y":38.3},{"s":"LoV 051  (C3-ung) L","x":1972,"y":37.3},{"s":"LoV 051  (C3-ung) L","x":2290,"y":37.5},{"s":"LoV 051  (C3-ung) L","x":2434,"y":38.1},{"s":"LoV 051  (C3-ung) L","x":2607,"y":38.1}
      ]},
      "mark": "line",
      "encoding": {
        "x": {"field": "x", "type": "quantitative", "scale": {"domain": [300, 2750], "nice": false, "zero": false}, "title": "Wavelength (nm)"},
        "y": {"field": "y", "type": "quantitative", "scale": {"domain": [0, 100], "nice": false}, "title": "Offset for clarity"},
        "color": {"field": "s", "type": "nominal", "scale": {"domain": ["Coolidge (C4-ung)","LoV 051  (C3-ung) L","NWA 12334 (LL6-an)","S_Mean","Sr_Mean"], "range": ["#9C5B2A","#F4A582","#FFC845","#70AD47","#E8232A"]}, "legend": {"legendX": 38, "legendY": 218, "labelFontSize": 12, "rowPadding": 2.7}},
        "strokeDash": {"field": "s", "type": "nominal", "scale": {"domain": ["Coolidge (C4-ung)","LoV 051  (C3-ung) L","NWA 12334 (LL6-an)","S_Mean","Sr_Mean"], "range": [[1,0],[1,0],[1,0],[4,2.5],[5,2.5]]}, "legend": {"legendX": 38, "legendY": 218, "labelFontSize": 12, "rowPadding": 2.7}},
        "strokeWidth": {"field": "s", "type": "nominal", "scale": {"domain": ["Coolidge (C4-ung)","LoV 051  (C3-ung) L","NWA 12334 (LL6-an)","S_Mean","Sr_Mean"], "range": [2.5,1.5,2,1.5,2]}, "legend": {"legendX": 38, "legendY": 218, "labelFontSize": 12, "rowPadding": 2.7}}
      }
    },
    {
      "data": {"values": [{"x": 2578, "y": 94.4, "t": "5"}]},
      "mark": {"type": "text"},
      "encoding": {
        "x": {"field": "x", "type": "quantitative"},
        "y": {"field": "y", "type": "quantitative"},
        "text": {"field": "t"}
      }
    }
  ]
},
{
  "width": 279, "height": 302,
  "layer": [
    {
      "data": {"values": [
        {"s":"Sv_Mean","x":442,"y":57.9},{"s":"Sv_Mean","x":558,"y":64},{"s":"Sv_Mean","x":673,"y":70.1},{"s":"Sv_Mean","x":760,"y":73.1},{"s":"Sv_Mean","x":846,"y":71.4},{"s":"Sv_Mean","x":904,"y":67.9},{"s":"Sv_Mean","x":962,"y":69},{"s":"Sv_Mean","x":1077,"y":76.7},{"s":"Sv_Mean","x":1193,"y":81.7},{"s":"Sv_Mean","x":1337,"y":84.4},{"s":"Sv_Mean","x":1481,"y":86.6},{"s":"Sv_Mean","x":1597,"y":85.5},{"s":"Sv_Mean","x":1741,"y":81.1},{"s":"Sv_Mean","x":1885,"y":78.6},{"s":"Sv_Mean","x":2001,"y":78.9},{"s":"Sv_Mean","x":2145,"y":81.7},{"s":"Sv_Mean","x":2290,"y":83.3},{"s":"Sv_Mean","x":2463,"y":83.7},
        {"s":"NWA 12480 (ACA) L","x":355,"y":56},{"s":"NWA 12480 (ACA) L","x":385,"y":60.2},{"s":"NWA 12480 (ACA) L","x":413,"y":63.5},{"s":"NWA 12480 (ACA) L","x":457,"y":64.6},{"s":"NWA 12480 (ACA) L","x":500,"y":67.9},{"s":"NWA 12480 (ACA) L","x":558,"y":72.3},{"s":"NWA 12480 (ACA) L","x":601,"y":72.3},{"s":"NWA 12480 (ACA) L","x":645,"y":70.9},{"s":"NWA 12480 (ACA) L","x":702,"y":71.4},{"s":"NWA 12480 (ACA) L","x":746,"y":70.1},{"s":"NWA 12480 (ACA) L","x":789,"y":63.5},{"s":"NWA 12480 (ACA) L","x":846,"y":55.7},{"s":"NWA 12480 (ACA) L","x":904,"y":49.1},{"s":"NWA 12480 (ACA) L","x":962,"y":47.4},{"s":"NWA 12480 (ACA) L","x":1020,"y":50.2},{"s":"NWA 12480 (ACA) L","x":1106,"y":57.9},{"s":"NWA 12480 (ACA) L","x":1193,"y":62.9},{"s":"NWA 12480 (ACA) L","x":1308,"y":66.8},{"s":"NWA 12480 (ACA) L","x":1424,"y":69.5},{"s":"NWA 12480 (ACA) L","x":1510,"y":69.2},{"s":"NWA 12480 (ACA) L","x":1626,"y":65.7},{"s":"NWA 12480 (ACA) L","x":1770,"y":59.6},{"s":"NWA 12480 (ACA) L","x":1857,"y":59.1},{"s":"NWA 12480 (ACA) L","x":1972,"y":59.6},{"s":"NWA 12480 (ACA) L","x":2116,"y":65.7},{"s":"NWA 12480 (ACA) L","x":2261,"y":71.2},{"s":"NWA 12480 (ACA) L","x":2434,"y":75.4},{"s":"NWA 12480 (ACA) L","x":2621,"y":77.8},
        {"s":"Sv_Mean ","x":442,"y":30.1},{"s":"Sv_Mean ","x":558,"y":35.9},{"s":"Sv_Mean ","x":673,"y":42.5},{"s":"Sv_Mean ","x":760,"y":45.3},{"s":"Sv_Mean ","x":846,"y":42.5},{"s":"Sv_Mean ","x":918,"y":39.7},{"s":"Sv_Mean ","x":991,"y":41.4},{"s":"Sv_Mean ","x":1135,"y":50.2},{"s":"Sv_Mean ","x":1279,"y":54.1},{"s":"Sv_Mean ","x":1424,"y":57.4},{"s":"Sv_Mean ","x":1539,"y":58.8},{"s":"Sv_Mean ","x":1712,"y":55.7},{"s":"Sv_Mean ","x":1857,"y":51.3},{"s":"Sv_Mean ","x":2001,"y":50.6},{"s":"Sv_Mean ","x":2145,"y":52.4},{"s":"Sv_Mean ","x":2290,"y":55.2},{"s":"Sv_Mean ","x":2463,"y":55.7},
        {"s":"JAH 846 (OC3) L","x":385,"y":8.3},{"s":"JAH 846 (OC3) L","x":413,"y":12.7},{"s":"JAH 846 (OC3) L","x":471,"y":14.9},{"s":"JAH 846 (OC3) L","x":529,"y":19.3},{"s":"JAH 846 (OC3) L","x":587,"y":32.6},{"s":"JAH 846 (OC3) L","x":645,"y":38.1},{"s":"JAH 846 (OC3) L","x":702,"y":42.5},{"s":"JAH 846 (OC3) L","x":755,"y":45.8},{"s":"JAH 846 (OC3) L","x":804,"y":41.4},{"s":"JAH 846 (OC3) L","x":861,"y":33.1},{"s":"JAH 846 (OC3) L","x":933,"y":29.2},{"s":"JAH 846 (OC3) L","x":1020,"y":32.6},{"s":"JAH 846 (OC3) L","x":1135,"y":39.2},{"s":"JAH 846 (OC3) L","x":1193,"y":43.6},{"s":"JAH 846 (OC3) L","x":1308,"y":46.9},{"s":"JAH 846 (OC3) L","x":1395,"y":49.1},{"s":"JAH 846 (OC3) L","x":1510,"y":49.1},{"s":"JAH 846 (OC3) L","x":1626,"y":46.4},{"s":"JAH 846 (OC3) L","x":1770,"y":42},{"s":"JAH 846 (OC3) L","x":1857,"y":41.4},{"s":"JAH 846 (OC3) L","x":1972,"y":39.2},{"s":"JAH 846 (OC3) L","x":2088,"y":41.4},{"s":"JAH 846 (OC3) L","x":2203,"y":43.6},{"s":"JAH 846 (OC3) L","x":2434,"y":44.2},{"s":"JAH 846 (OC3) L","x":2621,"y":46.6}
      ]},
      "mark": "line",
      "encoding": {
        "x": {"field": "x", "type": "quantitative", "scale": {"domain": [300, 2750], "nice": false, "zero": false}, "title": "Wavelength (nm)"},
        "y": {"field": "y", "type": "quantitative", "scale": {"domain": [0, 100], "nice": false}, "title": "Offset for clarity"},
        "color": {"field": "s", "type": "nominal", "scale": {"domain": ["JAH 846 (OC3) L","NWA 12480 (ACA) L","Sv_Mean","Sv_Mean "], "range": ["#FFD966","#8B4513","#4472C4","#548235"]}, "legend": {"legendX": 135, "legendY": 243, "rowPadding": 2.2}},
        "strokeDash": {"field": "s", "type": "nominal", "scale": {"domain": ["JAH 846 (OC3) L","NWA 12480 (ACA) L","Sv_Mean","Sv_Mean "], "range": [[1,0],[1,0],[5,2.5],[5,2.5]]}, "legend": {"legendX": 135, "legendY": 243, "rowPadding": 2.2}},
        "strokeWidth": {"field": "s", "type": "nominal", "scale": {"domain": ["JAH 846 (OC3) L","NWA 12480 (ACA) L","Sv_Mean","Sv_Mean "], "range": [2,2.5,1.5,1.5]}, "legend": {"legendX": 135, "legendY": 243, "rowPadding": 2.2}}
      }
    },
    {
      "data": {"values": [{"x": 439, "y": 94.4, "t": "6"}]},
      "mark": {"type": "text"},
      "encoding": {
        "x": {"field": "x", "type": "quantitative"},
        "y": {"field": "y", "type": "quantitative"},
        "text": {"field": "t"}
      }
    }
  ]
}
]
}
